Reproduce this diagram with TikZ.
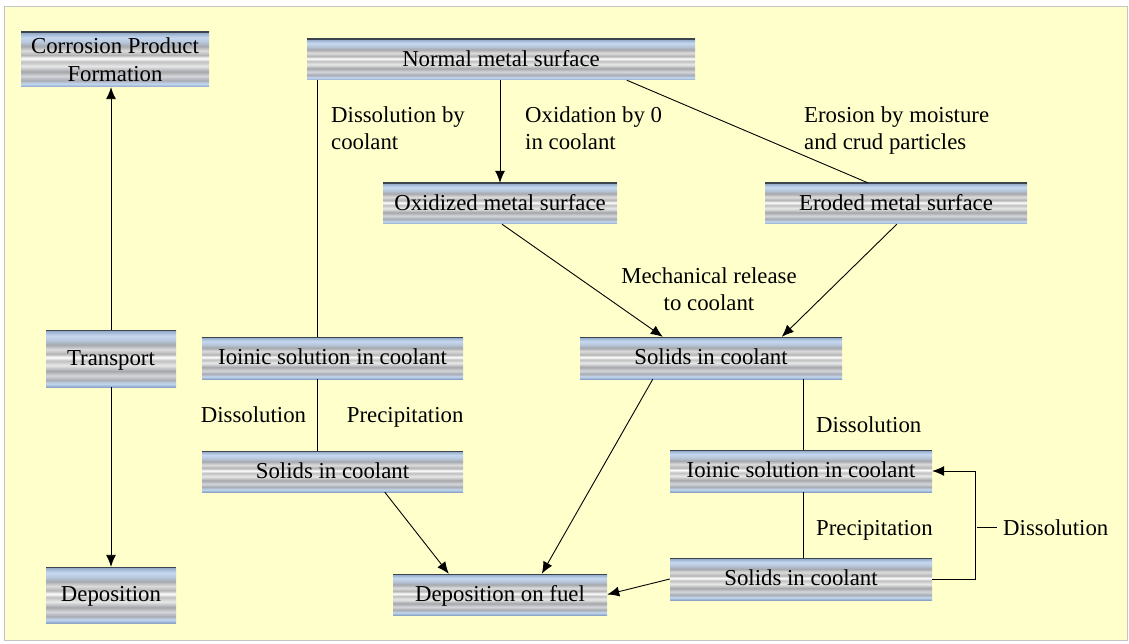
\documentclass[tikz,border=0pt]{standalone}
\usepackage{fontspec}
\setmainfont{Liberation Serif}
\usetikzlibrary{arrows.meta,calc}
\definecolor{bgfill}{HTML}{FFFFCC}
\definecolor{bgline}{HTML}{C4C4C4}
\definecolor{edge}{HTML}{3C4450}
\definecolor{m1}{HTML}{8CA6C8}
\definecolor{m2}{HTML}{C4D8F0}
\definecolor{m3}{HTML}{A8ACB4}
\definecolor{m4}{HTML}{D4D6DA}
\definecolor{m5}{HTML}{A4A6AA}
\definecolor{m6}{HTML}{E8E8E8}
\definecolor{m7}{HTML}{C0C0C0}
\definecolor{m8}{HTML}{FFFFFF}
\definecolor{m9}{HTML}{B4B4B4}
\definecolor{m10}{HTML}{DCDCDC}
\definecolor{m11}{HTML}{A6A9AE}
\definecolor{m12}{HTML}{B8C8DC}
\definecolor{m13}{HTML}{C6D8F0}
\definecolor{m14}{HTML}{8AA2C0}
\pgfdeclareverticalshading{metal}{100bp}{color(0bp)=(m1); color(25bp)=(m1); color(28bp)=(m2); color(31bp)=(m3); color(35bp)=(m4); color(39bp)=(m5); color(44bp)=(m6); color(48bp)=(m7); color(51bp)=(m8); color(54bp)=(m9); color(58bp)=(m10); color(62bp)=(m11); color(66bp)=(m12); color(70bp)=(m13); color(75bp)=(m14); color(100bp)=(m14)}
\begin{document}
\begin{tikzpicture}[x=1pt,y=-1pt,
  boxbase/.style={rectangle, shade, shading=metal, inner sep=0pt, align=center,
    font=\fontsize{22.8}{28}\selectfont,
    path picture={\draw[line width=1.4pt, edge] (path picture bounding box.north west) -- (path picture bounding box.north east);}},
  box/.style={boxbase, text height=17.5pt, text depth=4pt},
  lab/.style={inner sep=0pt, font=\fontsize{22.8}{27}\selectfont, align=left},
  ln/.style={line width=0.9pt, black},
  arr/.style={ln, -{Latex[length=12pt,width=10pt]}}]
\useasboundingbox (0,0) rectangle (1129,644);
\draw[fill=bgfill, draw=bgline, line width=1pt] (4,7) rectangle (1127,640);
% boxes
\node[boxbase, minimum width=188pt, minimum height=55pt] (corr) at (115,59.5) {Corrosion Product\\Formation};
\node[box, minimum width=130pt, minimum height=57pt] (trans) at (111,358.5) {Transport};
\node[box, minimum width=130pt, minimum height=56pt] (depo) at (111,595) {Deposition};
\node[box, minimum width=388pt, minimum height=41pt] (normal) at (501,59.5) {Normal metal surface};
\node[box, minimum width=234pt, minimum height=41pt] (oxid) at (500,203.5) {Oxidized metal surface};
\node[box, minimum width=262pt, minimum height=41pt] (eroded) at (896,203.5) {Eroded metal surface};
\node[box, minimum width=261pt, minimum height=42pt] (ion1) at (332.5,358) {Ioinic solution in coolant};
\node[box, minimum width=261pt, minimum height=41pt] (sol1) at (332.5,471.5) {Solids in coolant};
\node[box, minimum width=262pt, minimum height=42pt] (sol2) at (711,358) {Solids in coolant};
\node[box, minimum width=262pt, minimum height=42pt] (ion2) at (801,471) {Ioinic solution in coolant};
\node[box, minimum width=262pt, minimum height=42pt] (sol3) at (801,579) {Solids in coolant};
\node[box, minimum width=214pt, minimum height=41pt] (fuel) at (500,594.5) {Deposition on fuel};
% labels
\node[lab, anchor=north west] (lab1) at (331,106.5) {Dissolution by\\coolant};
\node[lab, anchor=north west] (lab2) at (525,106.5) {Oxidation by 0\\in coolant};
\node[lab, anchor=north west] (lab3) at (804,106.5) {Erosion by moisture\\and crud particles};
\node[lab, anchor=north, align=center] (lab4) at (709,267) {Mechanical release\\to coolant};
\node[lab, anchor=base west] (lab5) at (200.7,422) {Dissolution};
\node[lab, anchor=base west] (lab6) at (346.7,422) {Precipitation};
\node[lab, anchor=base west] (lab7) at (816,432) {Dissolution};
\node[lab, anchor=base west] (lab8) at (816,535) {Precipitation};
\node[lab, anchor=base west] (lab9) at (1003,535) {Dissolution};
% helper coordinates
\coordinate (xa) at (317,0);
\coordinate (xb) at (803,0);
\coordinate (xc) at (975,0);
% connectors
\draw[arr] (trans.north) -- (trans.north |- corr.south);
\draw[arr] (trans.south) -- (depo.north);
\draw[ln] (normal.south -| xa) -- (ion1.north -| xa);
\draw[arr] (normal.south -| oxid.north) -- (oxid.north);
\draw[ln] ($(normal.south west)+(320,0)$) -- ($(eroded.north west)+(103,0)$);
\draw[arr] ($(oxid.south)+(2,0)$) -- ($(sol2.north west)+(83,0)$);
\draw[arr] ($(eroded.south west)+(132,0)$) -- ($(sol2.north west)+(202,0)$);
\draw[ln] (ion1.south -| xa) -- (sol1.north -| xa);
\draw[arr] ($(sol1.south west)+(183,0)$) -- ($(fuel.north west)+(56,0)$);
\draw[arr] ($(sol2.south west)+(73,0)$) -- ($(fuel.north west)+(149,0)$);
\draw[ln] (sol2.south -| xb) -- (ion2.north -| xb);
\draw[ln] (ion2.south -| xb) -- (sol3.north -| xb);
\draw[arr] (sol3.west) -- (fuel.east);
\draw[arr] (sol3.east) -- (sol3.east -| xc) |- (ion2.east);
\draw[ln] ([xshift=2pt]xc |- lab9.west) -- ([xshift=-6pt]lab9.west);
\end{tikzpicture}
\end{document}
